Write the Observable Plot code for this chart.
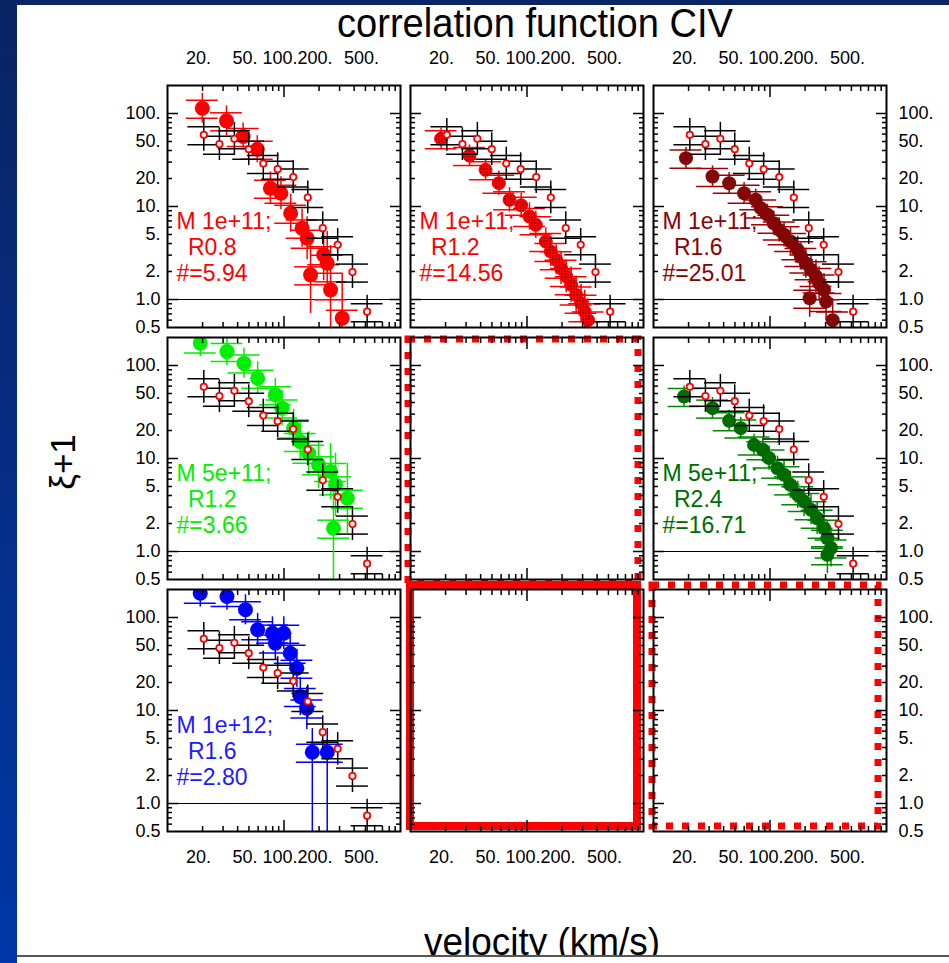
<!DOCTYPE html>
<html><head><meta charset="utf-8">
<script src="https://cdn.jsdelivr.net/npm/d3@7"></script>
<script src="https://cdn.jsdelivr.net/npm/@observablehq/plot@0.6"></script>
<style>
html,body{margin:0;padding:0;background:#fff;width:949px;height:963px;overflow:hidden;}
body{position:relative;font-family:"Liberation Sans",Arial,sans-serif;}
#chart{position:absolute;left:0;top:0;}
#deco{position:absolute;left:0;top:0;}
#leftband{position:absolute;left:0;top:0;width:17px;height:963px;background:linear-gradient(#0a2464,#0037a6);}
#topband{position:absolute;left:0;top:0;width:949px;height:5px;background:#0a2464;}
</style></head>
<body>
<div id="chart"></div>
<svg id="deco" width="949" height="963" font-family="Liberation Sans, Arial, sans-serif">
  <text x="535" y="37" font-size="40" text-anchor="middle" textLength="396" lengthAdjust="spacingAndGlyphs">correlation function CIV</text>
  <text transform="translate(75,462) rotate(-90)" font-size="35" text-anchor="middle">ξ+1</text>
  <text x="542" y="955" font-size="38" text-anchor="middle" textLength="236" lengthAdjust="spacingAndGlyphs">velocity (km/s)</text>
  <rect x="0" y="957" width="949" height="6" fill="#fff"/>
  <line x1="17" x2="949" y1="956" y2="956" stroke="#555" stroke-width="2"/>
</svg>
<div id="leftband"></div><div id="topband"></div>
<script>
// ---------------- data ----------------
const xTickValues = [20, 50, 100, 200, 500];
const xTickText = ["20.", "50.", "100.", "200.", "500."];
const yTickValues = [0.5, 1, 2, 5, 10, 20, 50, 100];
const yTickText = ["0.5", "1.0", "2.", "5.", "10.", "20.", "50.", "100."];
const xMajorTicks = [100];
const xMinorTicks = [20, 30, 40, 50, 60, 70, 80, 90, 200, 300, 400, 500, 600, 700, 800, 900];
const yMajorTicks = [1, 10, 100];
const yMinorTicks = [0.6, 0.7, 0.8, 0.9, 2, 3, 4, 5, 6, 7, 8, 9, 20, 30, 40, 50, 60, 70, 80, 90];
const unityLevel = [1];

// reference (black error crosses, red open markers), same in every filled panel
const refVelocity = [20.5, 27.9, 37.5, 49.8, 66.4, 88.2, 120, 160, 215, 289, 387, 517];
const refXi = [59, 46.8, 53.5, 41.3, 29, 25.2, 20.7, 12.5, 5.85, 3.87, 1.97, 0.74];
const refXiErr = [1.5, 1.5, 1.5, 1.5, 1.5, 1.5, 1.5, 1.5, 1.5, 1.5, 1.5, 1.5];
const refHatUp = 1.22, refHatDown = 1.28;   // positions of the two horizontal bin bars
const velocityBinErr = 1.37;

// panel 1: M 1e+11; R0.8
const p1Velocity = [19.9, 32.1, 44.6, 59.0, 76.4, 94.1, 114, 143, 158, 219, 235, 169, 251, 316];
const p1Xi = [114, 83.4, 56.6, 41.3, 15.7, 13.9, 8.47, 5.85, 4.56, 3.02, 2.45, 1.84, 1.27, 0.63];
const p1ErrUp = [1.45, 1.45, 1.4, 1.4, 1.5, 1.5, 1.6, 1.6, 1.7, 1.9, 2.2, 2.6, 3.0, 3.0];
const p1ErrDown = p1ErrUp;
// panel 2: M 1e+11; R1.2
const p2Velocity = [18.3, 32.1, 44.1, 57.3, 70.8, 89.2, 105, 119, 145, 160, 178, 196, 217, 239, 264, 291, 313, 334];
const p2Xi = [53.5, 35.3, 24.8, 17.8, 11.8, 10.3, 7.8, 6.35, 4.2, 3.28, 2.67, 2.17, 1.77, 1.44, 1.12, 0.91, 0.74, 0.6];
const p2ErrUp = [1.3, 1.3, 1.3, 1.35, 1.35, 1.35, 1.4, 1.4, 1.4, 1.45, 1.45, 1.5, 1.5, 1.55, 1.6, 1.6, 1.7, 1.7];
const p2ErrDown = p2ErrUp;
// panel 3: M 1e+11; R1.6
const p3Velocity = [19.0, 32.1, 44.6, 59.9, 75.4, 83.3, 95.2, 108, 120, 132, 150, 173, 184, 203, 225, 248, 264, 291, 219, 303, 345];
const p3Xi = [33.1, 21, 17.8, 13.9, 11.8, 9.6, 8.14, 6.6, 5.6, 4.96, 4.2, 3.42, 2.9, 2.46, 2.09, 1.77, 1.5, 1.27, 1.03, 0.95, 0.6];
const p3ErrUp = [1.3, 1.3, 1.3, 1.3, 1.3, 1.3, 1.3, 1.35, 1.35, 1.35, 1.4, 1.4, 1.4, 1.45, 1.45, 1.5, 1.5, 1.5, 1.6, 1.6, 1.7];
const p3ErrDown = p3ErrUp;
// panel 4: M 5e+11; R1.2
const p4Velocity = [19.1, 32.4, 45.3, 59.4, 84.3, 96.2, 121, 138, 163, 198, 251, 277, 350, 266];
const p4Xi = [174, 141, 106, 73, 48.4, 34.8, 21.2, 15.2, 11.4, 8.55, 7.25, 5.2, 3.74, 1.78];
const p4ErrUp = [1.4, 1.4, 1.45, 1.5, 1.5, 1.55, 1.6, 1.6, 1.7, 1.8, 2, 2.2, 2.4, 4];
const p4ErrDown = [1.4, 1.4, 1.45, 1.5, 1.5, 1.55, 1.6, 1.6, 1.7, 1.8, 2, 2.2, 2.4, 10];
// panel 5: M 5e+11; R2.4
const p5Velocity = [18.3, 32.1, 44.6, 56.1, 73.0, 86.7, 98.2, 116, 132, 150, 173, 196, 225, 254, 291, 311, 334, 311];
const p5Xi = [46.4, 34.8, 25.4, 21.2, 14, 12.4, 10.1, 7.86, 6.68, 5.2, 4.07, 3.45, 2.81, 2.28, 1.78, 1.39, 1.09, 0.92];
const p5ErrUp = [1.3, 1.3, 1.3, 1.3, 1.3, 1.35, 1.35, 1.35, 1.4, 1.4, 1.4, 1.45, 1.45, 1.5, 1.5, 1.55, 1.6, 1.6];
const p5ErrDown = p5ErrUp;
// panel 6: M 1e+12; R1.6
const p6Velocity = [19.1, 32.4, 46.7, 59.4, 79.6, 99.6, 84.3, 113, 129, 138, 157, 175, 235];
const p6Xi = [182, 168, 121, 73.8, 67.8, 67.8, 53, 41.3, 28.5, 14.1, 10.6, 3.56, 3.56];
const p6ErrUp = [1.4, 1.4, 1.45, 1.5, 1.5, 1.5, 1.5, 1.55, 1.6, 1.6, 1.7, 1.8, 1.8];
const p6ErrDown = [1.4, 1.4, 1.45, 1.5, 1.5, 1.5, 1.5, 1.55, 1.6, 1.6, 1.7, 20, 20];

const panelMass = ["M 1e+11;", "M 1e+11;", "M 1e+11;", "M 5e+11;", "M 5e+11;", "M 1e+12;"];
const panelRadius = ["R0.8", "R1.2", "R1.6", "R1.2", "R2.4", "R1.6"];
const panelCount = ["#=5.94", "#=14.56", "#=25.01", "#=3.66", "#=16.71", "#=2.80"];
const panelCol = [0, 1, 2, 0, 2, 0];
const panelRow = [0, 0, 0, 1, 1, 2];

// ---------------- styling ----------------
const XDOM = [10, 1000], YDOM = [0.5, 200];
const seriesData = [
  [p1Velocity, p1Xi, p1ErrUp, p1ErrDown],
  [p2Velocity, p2Xi, p2ErrUp, p2ErrDown],
  [p3Velocity, p3Xi, p3ErrUp, p3ErrDown],
  [p4Velocity, p4Xi, p4ErrUp, p4ErrDown],
  [p5Velocity, p5Xi, p5ErrUp, p5ErrDown],
  [p6Velocity, p6Xi, p6ErrUp, p6ErrDown]
];
const seriesStyle = [
  {text: "#ff0000", bar: "#ff0000", fill: "#ff0000", stroke: "none", r: 7.5},
  {text: "#ff0000", bar: "#ff0000", fill: "url(#pRedDots)", stroke: "#ff0000", r: 6.5},
  {text: "url(#pDarkRed)", bar: "url(#pDarkRedBar)", fill: "url(#pDarkRed)", stroke: "none", r: 7},
  {text: "#00ee00", bar: "#00ee00", fill: "#00ee00", stroke: "none", r: 7.5},
  {text: "url(#pDarkGreen)", bar: "url(#pDarkGreenBar)", fill: "url(#pDarkGreen)", stroke: "none", r: 7},
  {text: "#1a1aff", bar: "#0000ff", fill: "#0000ff", stroke: "none", r: 7.5}
];

function crossMarks(rows, stroke) {
  const common = {fx: "col", fy: "row", stroke, strokeWidth: 1.5, clip: true};
  return [
    Plot.ruleY(rows, {y: d => d.xi * refHatUp, x1: d => d.v / velocityBinErr, x2: d => d.v * velocityBinErr, ...common}),
    Plot.ruleY(rows, {y: d => d.xi / refHatDown, x1: d => d.v / velocityBinErr, x2: d => d.v * velocityBinErr, ...common}),
    Plot.ruleX(rows, {x: "v", y1: d => d.xi / d.down, y2: d => d.xi * d.up, ...common})
  ];
}

const marks = [];
seriesData.forEach(([vel, xi, up, down], k) => {
  const col = panelCol[k], row = panelRow[k], st = seriesStyle[k];
  const rows = vel.map((v, i) => ({v, xi: xi[i], up: up[i], down: down[i], col, row}));
  const refRows = refVelocity.map((v, i) => ({v, xi: refXi[i], up: refXiErr[i], down: refXiErr[i], col, row}));
  const lab = [{col, row, text: panelMass[k] + "\n\u2002" + panelRadius[k] + "\n" + panelCount[k]}];
  marks.push(
    Plot.ruleY(unityLevel.map(u => ({u, col, row})), {y: "u", fx: "col", fy: "row", stroke: "black", strokeWidth: 1}),
    Plot.text(lab, {fx: "col", fy: "row", text: "text", frameAnchor: "top-left", lineAnchor: "top", dx: 9, dy: 125,
      lineHeight: 1.13, fontSize: 23, fill: st.text, textAnchor: "start"}),
    ...crossMarks(rows, st.bar),
    Plot.dot(rows, {x: "v", y: "xi", fx: "col", fy: "row", r: st.r, fill: st.fill, stroke: st.stroke, strokeWidth: 1, clip: true}),
    ...crossMarks(refRows, "black"),
    Plot.dot(refRows, {x: "v", y: "xi", fx: "col", fy: "row", r: 3.2, fill: "white", stroke: "red", strokeWidth: 1.8, clip: true})
  );
});

// highlight boxes on the empty panels
const boxCommon = {x1: () => XDOM[0], x2: () => XDOM[1], y1: () => YDOM[0], y2: () => YDOM[1], fx: "col", fy: "row", fill: "none", stroke: "#ff0000"};
marks.push(
  Plot.rect([{col: 1, row: 1}], {...boxCommon, strokeWidth: 7, strokeDasharray: "7,9", insetLeft: -2, insetRight: 5, insetTop: 2, insetBottom: -4}),
  Plot.rect([{col: 1, row: 2}], {...boxCommon, strokeWidth: 8, insetLeft: 0, insetRight: 6, insetTop: -4, insetBottom: 5}),
  Plot.rect([{col: 2, row: 2}], {...boxCommon, strokeWidth: 7, strokeDasharray: "7,9", insetLeft: -1, insetRight: 8, insetTop: -4, insetBottom: 5})
);

// tick labels as text marks on the outer panels
const cols = [0, 1, 2], rowsIdx = [0, 1, 2];
const topLabels = cols.flatMap(col => xTickValues.map((v, i) => ({v, t: xTickText[i], col, row: 0})));
const bottomLabels = cols.flatMap(col => xTickValues.map((v, i) => ({v, t: xTickText[i], col, row: 2})));
const leftLabels = rowsIdx.flatMap(row => yTickValues.map((v, i) => ({v, t: yTickText[i], col: 0, row})));
const rightLabels = rowsIdx.flatMap(row => yTickValues.map((v, i) => ({v, t: yTickText[i], col: 2, row})));
const lblFont = {fontSize: 18, fill: "black", lineAnchor: "middle"};

const noText = {tickFormat: () => "", label: null, facetAnchor: null, strokeWidth: 1.5};
const axes = [
  Plot.frame({stroke: "black", strokeWidth: 2}),
  Plot.axisX(xMajorTicks, {anchor: "top", tickSize: -11, ...noText}),
  Plot.axisX(xMinorTicks, {anchor: "top", tickSize: -5, ...noText}),
  Plot.axisX(xMajorTicks, {anchor: "bottom", tickSize: -11, ...noText}),
  Plot.axisX(xMinorTicks, {anchor: "bottom", tickSize: -5, ...noText}),
  Plot.axisY(yMajorTicks, {anchor: "left", tickSize: -11, ...noText}),
  Plot.axisY(yMinorTicks, {anchor: "left", tickSize: -5, ...noText}),
  Plot.axisY(yMajorTicks, {anchor: "right", tickSize: -11, ...noText}),
  Plot.axisY(yMinorTicks, {anchor: "right", tickSize: -5, ...noText}),
  Plot.text(topLabels, {x: "v", text: "t", fx: "col", fy: "row", frameAnchor: "top", dy: -27, dx: -4, ...lblFont}),
  Plot.text(bottomLabels, {x: "v", text: "t", fx: "col", fy: "row", frameAnchor: "bottom", dy: 26, dx: -4, ...lblFont}),
  Plot.text(leftLabels, {y: "v", text: "t", fx: "col", fy: "row", frameAnchor: "left", dx: -7, textAnchor: "end", ...lblFont}),
  Plot.text(rightLabels, {y: "v", text: "t", fx: "col", fy: "row", frameAnchor: "right", dx: 12, textAnchor: "start", ...lblFont})
];

const svg = Plot.plot({
  width: 949, height: 963,
  marginLeft: 167, marginRight: 63, marginTop: 85, marginBottom: 132,
  fx: {domain: [0, 1, 2], paddingInner: 10 / 243, paddingOuter: 0, axis: null},
  fy: {domain: [0, 1, 2], paddingInner: 10 / 252, paddingOuter: 0, axis: null},
  facet: {marginTop: 0, marginRight: 0, marginBottom: 0, marginLeft: 0},
  x: {type: "log", domain: XDOM, axis: null},
  y: {type: "log", domain: YDOM, axis: null},
  style: {fontFamily: "Liberation Sans, Arial, sans-serif", fontSize: "18px", background: "transparent", color: "black", overflow: "visible"},
  marks: [...marks, ...axes]
});
svg.insertAdjacentHTML("afterbegin", `<defs>
  <pattern id="pRedDots" width="3" height="3" patternUnits="userSpaceOnUse"><rect width="3" height="3" fill="#ff0000"/><rect width="1" height="1" fill="#000"/></pattern>
  <pattern id="pDarkRed" width="2" height="2" patternUnits="userSpaceOnUse"><rect width="2" height="2" fill="#5a0000"/><rect width="1" height="1" fill="#ff1a1a"/></pattern>
  <pattern id="pDarkRedBar" width="2" height="2" patternUnits="userSpaceOnUse"><rect width="2" height="2" fill="#ff0000"/><rect width="1" height="1" fill="#400000"/><rect x="1" y="1" width="1" height="1" fill="#400000"/></pattern>
  <pattern id="pDarkGreen" width="2" height="2" patternUnits="userSpaceOnUse"><rect width="2" height="2" fill="#004000"/><rect width="1" height="1" fill="#00ee00"/></pattern>
  <pattern id="pDarkGreenBar" width="2" height="2" patternUnits="userSpaceOnUse"><rect width="2" height="2" fill="#00e000"/><rect width="1" height="1" fill="#003000"/><rect x="1" y="1" width="1" height="1" fill="#003000"/></pattern>
</defs>`);
document.getElementById("chart").appendChild(svg);
</script>
</body></html>
